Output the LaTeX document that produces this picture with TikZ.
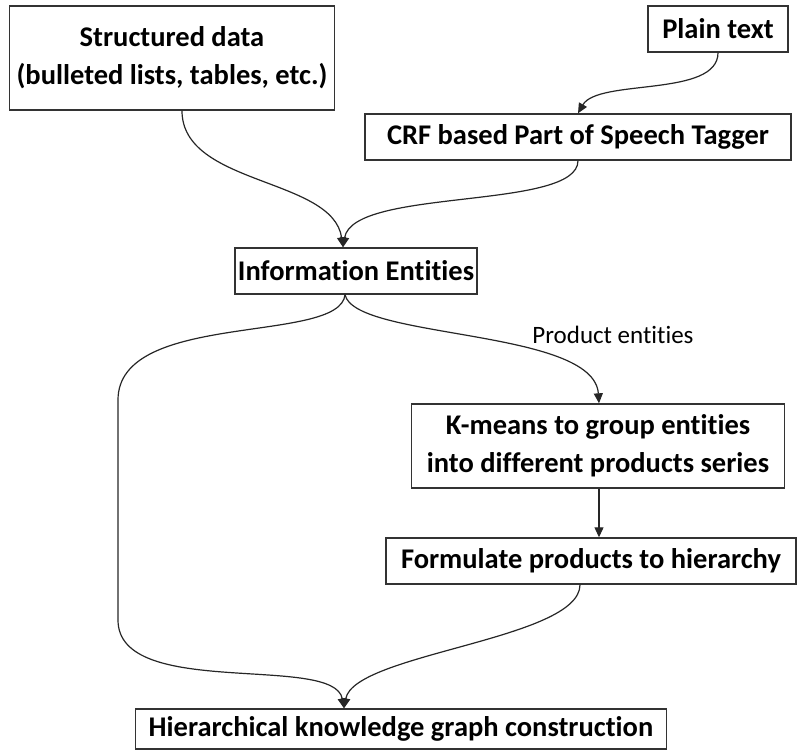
\documentclass[tikz,border=0pt]{standalone}
\usepackage{fontspec}
\setmainfont{Carlito}[Ligatures=NoCommon]
\usetikzlibrary{positioning,arrows.meta}

\begin{document}
\begin{tikzpicture}[x=1pt, y=-1pt, every node/.style={font=\fontsize{28.5}{38}\selectfont\bfseries}]
      \tikzstyle{stagebox}=[draw=black!80, line width=1.4pt, fill=white, align=center, inner sep=0pt, minimum height=46pt]
      \tikzstyle{flow}=[-{Triangle[length=10pt, width=9pt]}, line width=1.2pt, black!85]
      \useasboundingbox (0,0) rectangle (804,750);
      \node[stagebox, minimum width=325pt, minimum height=104pt] (struct) at (172,58) {Structured data\\(bulleted lists, tables, etc.)};
      \node[stagebox, minimum width=140pt] (plain) at (718,29) {Plain text};
      \node[stagebox, minimum width=426pt] (crf) at (578,137) {CRF based Part of Speech Tagger};
      \node[stagebox, minimum width=242pt] (info) at (356,271) {Information Entities};
      \node[font=\fontsize{25}{30}\selectfont] (prodlbl) at (613,335) {Product entities};
      \node[stagebox, minimum width=373pt, minimum height=84pt] (kmeans) at (598,446) {K-means to group entities\\into different products series};
      \node[stagebox, minimum width=410pt] (form) at (591,561) {Formulate products to hierarchy};
      \node[stagebox, minimum width=531pt, minimum height=40pt] (hier) at (401,729) {Hierarchical knowledge graph construction};
      % merge into entities
      \draw[flow] ([xshift=10pt]struct.south) .. controls +(0,75) and +(-10,-70) .. ([xshift=-13pt]info.north);
      \draw[flow] (plain.south) .. controls +(0,45) and +(20,-35) .. (crf.north);
      \draw[flow] (crf.south) .. controls +(0,50) and +(10,-60) .. ([xshift=-13pt]info.north);
      % split
      \draw[flow] ([xshift=-11pt]info.south) .. controls +(10,45) and +(-5,-75) .. ([xshift=1pt]kmeans.north);
      \draw[flow] ([xshift=1pt]kmeans.south) -- ([xshift=8pt]form.north);
      \draw[flow] ([xshift=-11pt]info.south) .. controls +(-5,50) and +(0,-90) .. (118,400) -- (118,620) .. controls +(0,80) and +(-10,-55) .. ([xshift=-57pt]hier.north);
      \draw[flow] ([xshift=-11pt]form.south) .. controls +(0,55) and +(10,-55) .. ([xshift=-57pt]hier.north);
    \end{tikzpicture}
\end{document}
